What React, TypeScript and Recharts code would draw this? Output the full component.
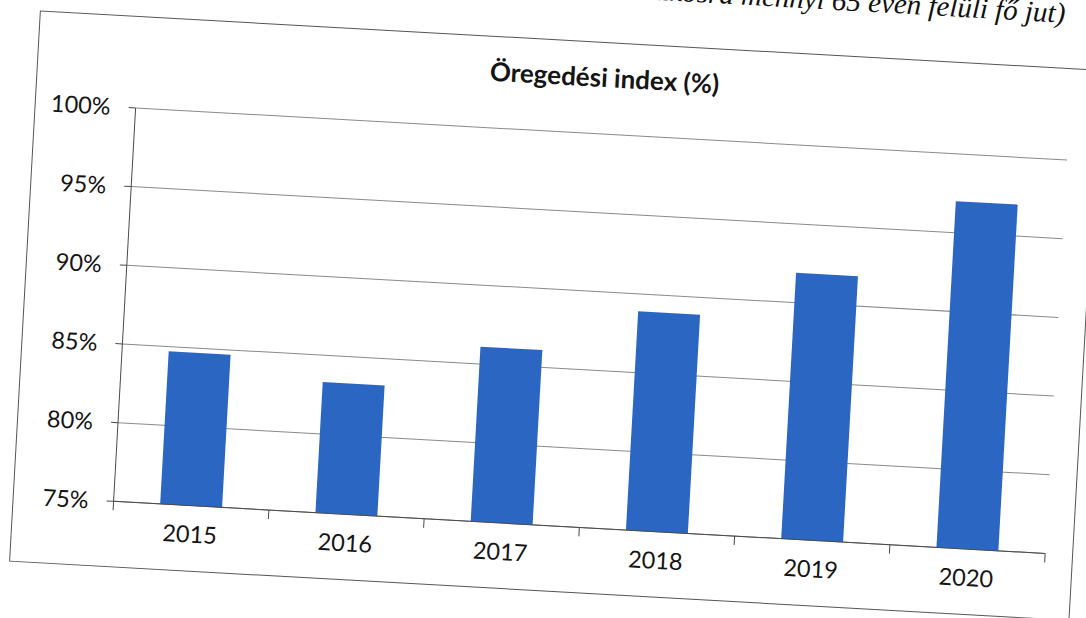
import React from "react";
import { Bar, BarChart, CartesianGrid, XAxis, YAxis } from "recharts";

// Öregedési index, 2015–2020
const years = ["2015", "2016", "2017", "2018", "2019", "2020"];
const agingIndex = [84.7, 83.3, 86.1, 88.9, 91.9, 97.0];
const yTicks = [75, 80, 85, 90, 95, 100];

const data = years.map((year, i) => ({ year, value: agingIndex[i] }));

const BOX_W = 1062;
const BOX_H = 552;
const MARGIN = { top: 92, right: 28, bottom: 26, left: 0 };
const Y_AXIS_W = 101;
const X_AXIS_H = 40;
const PLOT_W = BOX_W - MARGIN.right - MARGIN.left - Y_AXIS_W;
const HALF_BAND = PLOT_W / years.length / 2;

const BAR = "#2b67c2";
const AXIS = "#4a4a4a";
const GRID = "#8a8a8a";
const TEXT = "#151515";
const FONT = "Lato, 'Open Sans', sans-serif";

function YearTick(props: any) {
  const { x, y, payload, index } = props;
  const last = index === years.length - 1;
  return (
    <g>
      <line x1={x - HALF_BAND} y1={y} x2={x - HALF_BAND} y2={y + 9} stroke={AXIS} />
      {last && (
        <line x1={x + HALF_BAND} y1={y} x2={x + HALF_BAND} y2={y + 9} stroke={AXIS} />
      )}
      <text
        x={x}
        y={y + 28}
        textAnchor="middle"
        dominantBaseline="central"
        fill={TEXT}
        fontSize={23.5}
        fontFamily={FONT}
      >
        {payload.value}
      </text>
    </g>
  );
}

export default function App() {
  return (
    <div
      style={{
        position: "fixed",
        left: 0,
        top: 0,
        width: 1086,
        height: 618,
        overflow: "hidden",
        background: "#fff"
      }}
    >
      <div
        style={{
          position: "absolute",
          left: 0,
          top: 0,
          width: 1086,
          height: 618,
          transform: "rotate(3.2deg)",
          transformOrigin: "543px 309px"
        }}
      >
        <div
          style={{
            position: "absolute",
            right: 38,
            top: -30,
            fontFamily: "'Liberation Serif', 'DejaVu Serif', serif",
            fontStyle: "italic",
            fontSize: 29,
            lineHeight: "29px",
            whiteSpace: "nowrap",
            color: "#111"
          }}
        >
          (100 fő 14 éven aluli lakosra mennyi 65 éven felüli fő jut)
        </div>

        <div
          style={{
            position: "absolute",
            left: 24,
            top: 39,
            width: BOX_W,
            height: BOX_H,
            boxSizing: "border-box",
            border: "1.5px solid #555"
          }}
        />

        <div style={{ position: "absolute", left: 24, top: 39, width: BOX_W, height: BOX_H }}>
          <div
            style={{
              position: "absolute",
              left: Y_AXIS_W,
              width: PLOT_W,
              top: 20,
              textAlign: "center",
              fontFamily: FONT,
              fontWeight: 700,
              fontSize: 26,
              lineHeight: "30px",
              color: TEXT
            }}
          >
            Öregedési index (%)
          </div>

          <BarChart
            width={BOX_W}
            height={BOX_H}
            data={data}
            margin={MARGIN}
            barCategoryGap="30%"
          >
            <CartesianGrid stroke={GRID} vertical={false} />
            <XAxis
              dataKey="year"
              height={X_AXIS_H}
              axisLine={{ stroke: AXIS }}
              tickLine={false}
              tickSize={0}
              tickMargin={0}
              interval={0}
              tick={<YearTick />}
            />
            <YAxis
              width={Y_AXIS_W}
              domain={[75, 100]}
              ticks={yTicks}
              interval={0}
              axisLine={{ stroke: AXIS }}
              tickLine={{ stroke: AXIS }}
              tickSize={7}
              tickMargin={18}
              tickFormatter={(v: number) => `${v}%`}
              tick={{ fill: TEXT, fontSize: 23.5, fontFamily: FONT }}
            />
            <Bar dataKey="value" fill={BAR} isAnimationActive={false} />
          </BarChart>
        </div>
      </div>
    </div>
  );
}
